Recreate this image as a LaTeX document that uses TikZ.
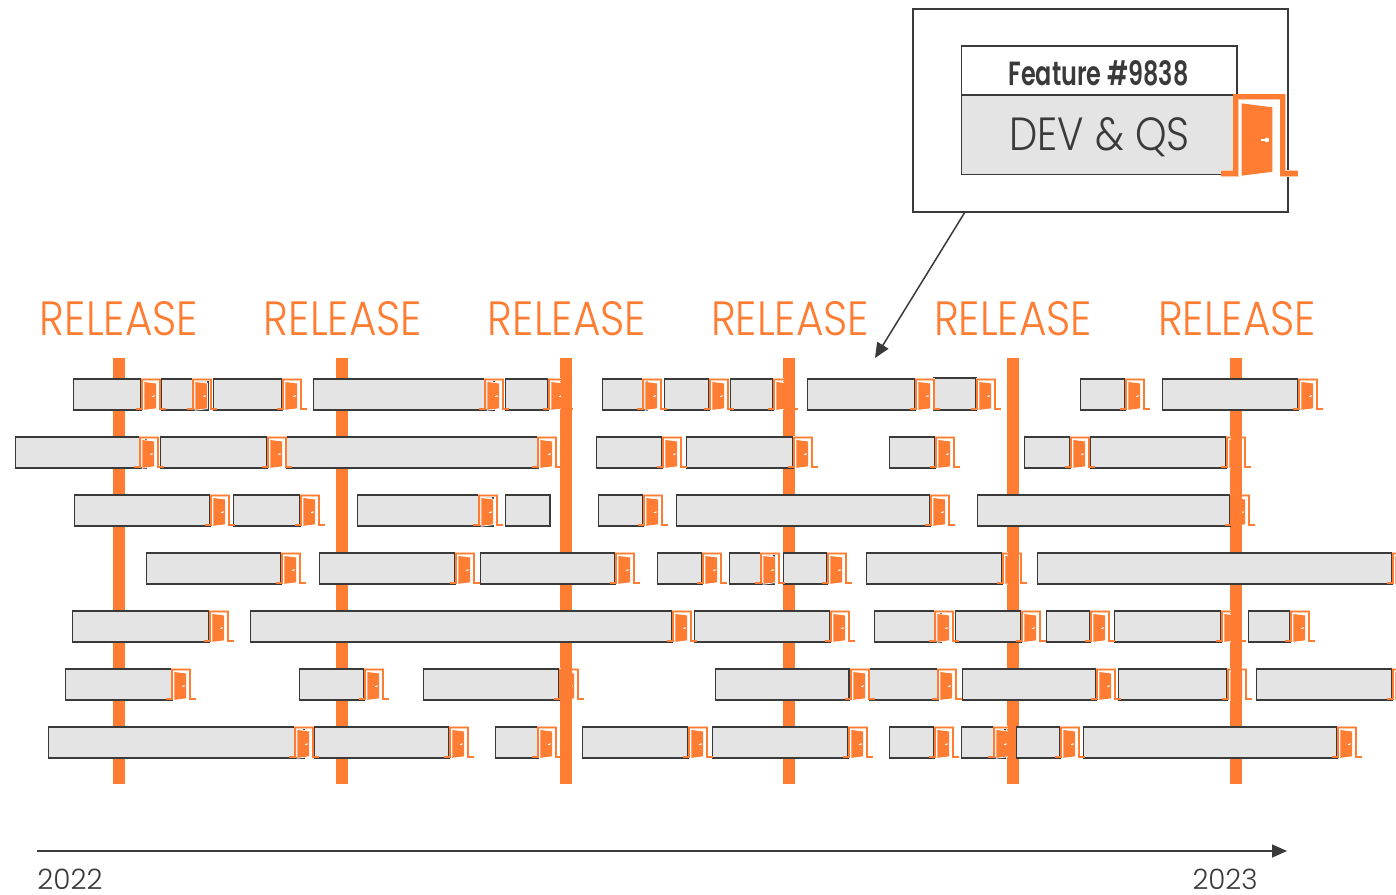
\documentclass[tikz,border=0pt]{standalone}
\usepackage{fontspec}
\usepackage{graphicx}
\setmainfont{Poppins}[UprightFont=* Light,BoldFont=* SemiBold]
\usetikzlibrary{arrows.meta,calc}
\definecolor{relorange}{HTML}{FF7C33}
\definecolor{halo}{HTML}{FFC9A8}
\definecolor{ink}{HTML}{3A3A3A}
\definecolor{barfill}{HTML}{E4E4E4}
\tikzset{
  barbox/.style={draw=ink,line width=1.6pt,fill=barfill,anchor=north west,inner sep=0pt,outer sep=0pt,minimum height=31pt},
  label/.style={inner sep=0pt,outer sep=0pt,anchor=base},
  releaseline/.style={fill=relorange,draw=none},
  pointer/.style={draw=ink,line width=1.5pt,-{Triangle[length=15pt,width=13pt]}}
}
\newcommand{\doorshape}[3]{%
  \begin{scope}[shift={(#1,#2)},scale=#3]
    \pgfmathsetmacro\hw{#3*2.5}\pgfmathsetmacro\fw{#3*1.9}\pgfmathsetmacro\gw{#3*1.6}
    \draw[halo,line width=\hw pt] (-4.6,30.4)--(1.1,30.4)--(1.1,1.0)--(19.2,1.0)--(19.2,30.4)--(25,30.4);
    \draw[relorange,line width=\fw pt,miter limit=10] (-4.6,30.4)--(1.1,30.4)--(1.1,1.0)--(19.2,1.0)--(19.2,30.4)--(25,30.4);
    \draw[white,line width=\gw pt,fill=relorange] (3.3,3.5)--(15.1,5)--(15.1,29.8)--(3.3,31.3)--cycle;
    \fill[relorange] (3.3,3.5)--(15.1,5)--(15.1,29.8)--(3.3,31.3)--cycle;
    \fill[white] (10.8,17.2) rectangle (13,17.9);
    \fill[white] (13,17.55) circle (0.9);
  \end{scope}}
\newcommand{\rowbars}[2]{%
  \foreach \l/\r [count=\i] in {#2}{%
    \node[barbox,minimum width={(\r-\l-0.5)*1pt}] (b#1-\l) at (\l+0.5,#1) {};}}
\newcommand{\rowdoors}[2]{%
  \foreach \x in {#2}{\doorshape{\x}{#1-0.5}{1}}}
\newcommand{\patch}[2]{\fill[relorange] (#1-5,#2-2) rectangle (#1+6,#2+33);}
\begin{document}
\begin{tikzpicture}[x=1pt,y=-1pt]
\useasboundingbox (0,0) rectangle (1396,894);
% release lines
\foreach \c in {119,342,566,789,1013,1236}{\fill[releaseline] (\c-6,358) rectangle (\c+6,783.5);}
% release labels
\foreach \c/\n in {119/a,343/b,567/c,790/d,1013/e,1237/f}{
  \node[label,text=relorange] (rel\n) at (\c,335) {\resizebox{158pt}{34pt}{RELEASE}};}
% rows
\rowbars{379}{73/141,161/208,213/282,313/494,505/548,602/647,664/709,730/773,807/915,1080/1125,1162/1298}
\node[barbox,minimum width=42pt,minimum height=32pt] (b379-934) at (934,378) {};
\rowdoors{379}{141,192,282,484,548,642,709,773,915,976,1125,1298}
\rowbars{437}{15/146,160/267,286/538,596/662,686/793,889/935,1024/1070,1090/1226}
\rowdoors{437}{139,267,537,662,793,935,1070,1226}
\rowbars{495}{74/210,233/300,357/493,505/550,598/643,676/930,977/1230}
\rowdoors{495}{210,300,478,643,930,1230}
\rowbars{553}{146/281,319/455,480/615,657/702,729/774,783/827,866/1002,1037/1392}
\rowdoors{553}{281,455,615,702,760,827,1002,1392}
\rowbars{611}{72/209,250/672,694/830,874/941,955/1021,1046/1090,1114/1221,1248/1290}
\rowdoors{611}{209,672,830,934,1021,1090,1221,1290}
\rowbars{669}{65/172,299/364,423/559,715/849,869/938,962/1096,1118/1227,1256/1392}
\rowdoors{669}{171,364,559,850,937,1096,1227,1392}
\rowbars{727}{48/304,314/449,495/538,582/688,712/848,889/934,961/1005}
\rowdoors{727}{294,449,537,688,848,934,993}
% release lines that pass in front of a door
\patch{566}{379}\patch{789}{379}
\patch{566}{437}\patch{1236}{437}
\patch{1236}{495}
\patch{1013}{553}
\patch{1236}{611}
\patch{566}{669}\patch{1236}{669}
\patch{566}{727}\patch{1013}{727}
\rowbars{727}{1016/1060,1083/1337}
\rowdoors{727}{1060,1337}
% callout
\node[draw=ink,line width=2pt,fill=white,anchor=north west,inner sep=0pt,outer sep=0pt,minimum width=374.5pt,minimum height=202.5pt] (callout) at (913,9) {};
\node[draw=ink,line width=1.5pt,fill=white,anchor=north west,inner sep=0pt,outer sep=0pt,minimum width=275.5pt,minimum height=49pt] (header) at (961.5,46) {};
\node[draw=ink,line width=1.5pt,fill=barfill,anchor=north west,inner sep=0pt,outer sep=0pt,minimum width=275.5pt,minimum height=79.5pt] (body) at (961.5,95) {};
\node[label,text=ink] (feat) at (1098.5,85) {\resizebox{180pt}{25pt}{\bfseries Feature \#9838}};
\node[label,text=ink] (devqs) at (1099.5,150) {\resizebox{180pt}{33pt}{DEV \& QS}};
\doorshape{1233}{94.3}{2.6}
% pointers
\coordinate (calloutfoot) at (965,212);
\coordinate (calloutend) at (875,358);
\draw[pointer] (calloutfoot) -- (calloutend);
\coordinate (tstart) at (37,851);
\coordinate (tend) at (1287,851);
\draw[pointer] (tstart) -- (tend);
\node[label,text=ink] (y22) at (70,889.5) {\resizebox{65pt}{20.5pt}{2022}};
\node[label,text=ink] (y23) at (1225,889.5) {\resizebox{65pt}{20.5pt}{2023}};
\end{tikzpicture}
\end{document}
